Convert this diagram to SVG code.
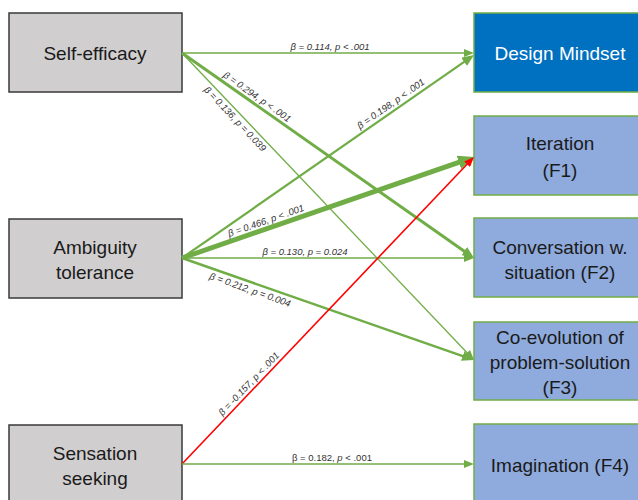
<svg xmlns="http://www.w3.org/2000/svg" width="638" height="500" viewBox="0 0 638 500">
<defs>
<style>
.src{fill:#D0CECE;stroke:#3A3A3A;stroke-width:1.5}
.dm{fill:#0070C0;stroke:#70AD47;stroke-width:1.5}
.fac{fill:#8FAADC;stroke:#70AD47;stroke-width:1.5}
.bt{font-family:"Liberation Sans",Arial,sans-serif;font-size:19px;fill:#1a1a1a;text-anchor:middle}
.wt{fill:#ffffff}
.g{fill:none;stroke:#70AD47;stroke-linecap:butt}
.r{fill:none;stroke:#FF0000;stroke-width:1.6}
.lb{font-family:"Liberation Sans",Arial,sans-serif;font-size:9.5px;font-style:italic;fill:#333;text-anchor:middle}
</style>
<marker id="gs" markerUnits="userSpaceOnUse" markerWidth="10" markerHeight="8" refX="2" refY="4" orient="auto"><path d="M0,0 L10,4 L0,8 z" fill="#70AD47"/></marker>
<marker id="gm" markerUnits="userSpaceOnUse" markerWidth="12" markerHeight="10" refX="4" refY="5" orient="auto"><path d="M0,0 L12,5 L0,10 z" fill="#70AD47"/></marker>
<marker id="gl" markerUnits="userSpaceOnUse" markerWidth="16" markerHeight="14" refX="6" refY="7" orient="auto"><path d="M0,0 L16,7 L0,14 z" fill="#70AD47"/></marker>
<marker id="rs" markerUnits="userSpaceOnUse" markerWidth="10" markerHeight="8" refX="2" refY="4" orient="auto"><path d="M0,0 L10,4 L0,8 z" fill="#FF0000"/></marker>
</defs>
<rect width="638" height="500" fill="#ffffff"/>

<g id="self-efficacy"><rect class="src" x="9" y="13" width="173" height="79"/><text class="bt" x="95" y="60">Self-efficacy</text></g>
<g id="ambiguity-tolerance"><rect class="src" x="9" y="219" width="173" height="79"/><text class="bt" x="95" y="254">Ambiguity</text><text class="bt" x="95" y="279">tolerance</text></g>
<g id="sensation-seeking"><rect class="src" x="9" y="425" width="173" height="80"/><text class="bt" x="95" y="460">Sensation</text><text class="bt" x="95" y="485">seeking</text></g>

<g id="design-mindset"><rect class="dm" x="474" y="13" width="172" height="79"/><text class="bt wt" x="560" y="60">Design Mindset</text></g>
<g id="iteration"><rect class="fac" x="474" y="116" width="172" height="79"/><text class="bt" x="560" y="150">Iteration</text><text class="bt" x="560" y="177">(F1)</text></g>
<g id="conversation"><rect class="fac" x="474" y="218" width="172" height="79"/><text class="bt" x="560" y="254">Conversation w.</text><text class="bt" x="560" y="279">situation (F2)</text></g>
<g id="coevolution"><rect class="fac" x="474" y="322" width="172" height="78"/><text class="bt" x="560" y="344">Co-evolution of</text><text class="bt" x="560" y="369">problem-solution</text><text class="bt" x="560" y="394">(F3)</text></g>
<g id="imagination"><rect class="fac" x="474" y="424" width="172" height="80"/><text class="bt" x="560" y="472">Imagination (F4)</text></g>

<g id="connectors">
<line class="g" x1="182" y1="53" x2="466" y2="53" stroke-width="1.4" marker-end="url(#gs)"/>
<line class="g" x1="182" y1="53" x2="467.5" y2="253.4" stroke-width="3" marker-end="url(#gm)"/>
<line class="g" x1="182" y1="53" x2="468.5" y2="354.2" stroke-width="1.3" marker-end="url(#gs)"/>
<line class="g" x1="182" y1="258" x2="467.4" y2="59.6" stroke-width="2.2" marker-end="url(#gm)"/>
<line class="g" x1="182" y1="258" x2="464.5" y2="160.3" stroke-width="5" marker-end="url(#gl)"/>
<line class="g" x1="182" y1="258" x2="466" y2="258" stroke-width="1.4" marker-end="url(#gs)"/>
<line class="g" x1="182" y1="258" x2="466.4" y2="357.4" stroke-width="2.4" marker-end="url(#gm)"/>
<line class="r" x1="182" y1="464" x2="468.5" y2="162.8" marker-end="url(#rs)"/>
<line class="g" x1="182" y1="464" x2="466" y2="464" stroke-width="1.4" marker-end="url(#gs)"/>
</g>

<g id="labels">
<text class="lb" x="330" y="50">β = 0.114, p &lt; .001</text>
<text class="lb" transform="translate(257,97) rotate(35.1)" y="3">β = 0.294, p &lt; .001</text>
<text class="lb" transform="translate(235,119) rotate(46.5)" y="3">β = 0.136, p = 0.039</text>
<text class="lb" transform="translate(391,104) rotate(-35.1)" y="3">β = 0.198, p &lt; .001</text>
<text class="lb" transform="translate(266,221) rotate(-19.3)" y="3">β = 0.466, p &lt; .001</text>
<text class="lb" x="305" y="255">β = 0.130, p = 0.024</text>
<text class="lb" transform="translate(250,290) rotate(19.4)" y="3">β = 0.212, p = 0.004</text>
<text class="lb" transform="translate(249,384) rotate(-46.5)" y="3">β = -0.157, p &lt; .001</text>
<text class="lb" x="332" y="461" style="font-style:normal">β = 0.182, <tspan style="font-style:italic">p</tspan> &lt; .001</text>
</g>
</svg>
